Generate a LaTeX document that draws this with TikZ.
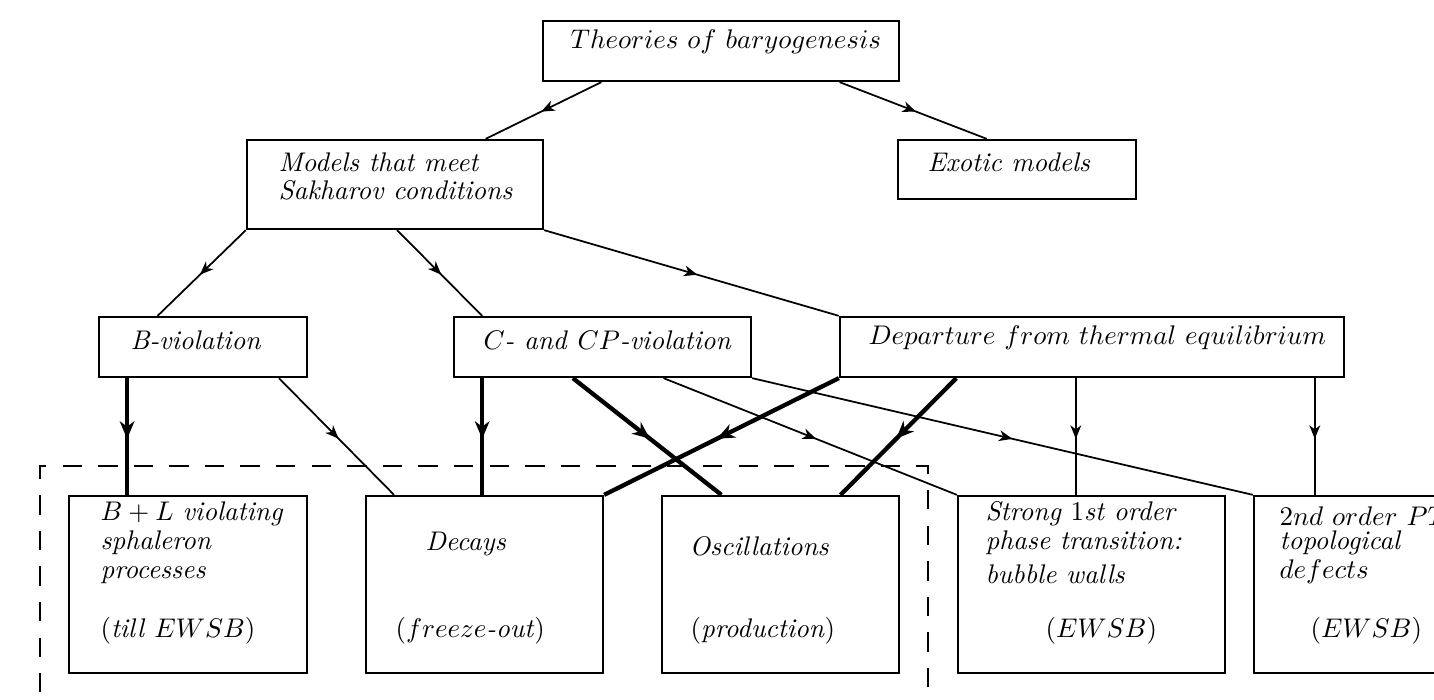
\documentclass[tikz,border=0pt]{standalone}
\usepackage{amsmath,amssymb}
\usepackage{tikz}
\usetikzlibrary{arrows.meta,calc,fit,decorations.markings}

\begin{document}
\begin{tikzpicture}[
    x=0.371pt, y=-0.371pt,
    box/.style={rectangle, draw, line width=0.85pt, inner sep=0pt},
    frame/.style={rectangle, draw, line width=0.65pt, inner sep=0pt, dash pattern=on 7.2pt off 6pt},
    txt/.style={anchor=base west, inner sep=0pt},
    flow/.style={line width=0.65pt, postaction={decorate}, decoration={markings, mark=at position 0.52 with {\arrow{Stealth[length=5pt, width=4pt, inset=1.5pt]}}}},
    boldflow/.style={line width=1.6pt, postaction={decorate}, decoration={markings, mark=at position 0.52 with {\arrow{Stealth[length=6.5pt, width=5.4pt, inset=2pt]}}}}
]
    \useasboundingbox (0,0) rectangle (1434,700);
    \clip (0,0) rectangle (1434,700);

    % boxes
    \node[box, fit={(543,21) (899,81)}] (theories) {};
    \node[box, fit={(898,140) (1136,199)}] (exotic) {};
    \node[box, fit={(247,140) (543,229)}] (models) {};
    \node[box, fit={(99,317) (307,377)}] (bviol) {};
    \node[box, fit={(454,317) (751,377)}] (ccp) {};
    \node[box, fit={(840,317) (1344,377)}] (dep) {};
    \node[box, fit={(69,496) (307,673)}] (sphal) {};
    \node[box, fit={(366,496) (603,673)}] (decays) {};
    \node[box, fit={(662,496) (899,673)}] (osc) {};
    \node[box, fit={(958,496) (1225,673)}] (strong) {};
    \node[box, fit={(1254,496) (1490,673)}] (second) {};
    \node[frame, fit={(40,466) (928,760)}] (region) {};

    % texts
    \node[txt] (theoriestxt) at (570,49) {$Theories\ of\ baryogenesis$};
    \node[txt] (exotictxt) at (927,172) {\textit{Exotic models}};
    \node[txt] (modelstxta) at (278,172) {\textit{Models that meet}};
    \node[txt] (modelstxtb) at (278,200) {\textit{Sakharov conditions}};
    \node[txt] (bvioltxt) at (130,349) {\textit{B-violation}};
    \node[txt] (ccptxt) at (483,349) {$C$\textit{- and }$CP$\textit{-violation}};
    \node[txt] (deptxt) at (868,344) {$Departure\ from\ thermal\ equilibrium$};
    \node[txt] (sphaltxta) at (100,520) {$B+L$ \textit{violating}};
    \node[txt] (sphaltxtb) at (100,549) {\textit{sphaleron}};
    \node[txt] (sphaltxtc) at (100,578) {\textit{processes}};
    \node[txt] (sphaltxtd) at (100,637) {$($\textit{till} $EWSB)$};
    \node[txt] (decaystxta) at (425,550) {\textit{Decays}};
    \node[txt] (decaystxtb) at (395,637) {$(freeze$\textit{-out}$)$};
    \node[txt] (osctxta) at (689,555) {\textit{Oscillations}};
    \node[txt] (osctxtb) at (690,637) {$($\textit{production}$)$};
    \node[txt] (strongtxta) at (985,520) {\textit{Strong} $1$\textit{st order}};
    \node[txt] (strongtxtb) at (985,549) {\textit{phase transition:}};
    \node[txt] (strongtxtc) at (985,583) {\textit{bubble walls}};
    \node[txt] (strongtxtd) at (1045,637) {$(EWSB)$};
    \node[txt] (secondtxta) at (1279,525) {$2nd\ order\ PT$};
    \node[txt] (secondtxtb) at (1279,549) {\textit{topological}};
    \node[txt] (secondtxtc) at (1279,578) {$defects$};
    \node[txt] (secondtxtd) at (1310,637) {$(EWSB)$};

    % start points of the vertical connectors
    \coordinate (bvdown) at ($(bviol.south west)!0.139!(bviol.south east)$);
    \coordinate (ccpdown) at ($(ccp.south west)!0.098!(ccp.south east)$);
    \coordinate (depdowna) at ($(dep.south west)!0.468!(dep.south east)$);
    \coordinate (depdownb) at ($(dep.south west)!0.940!(dep.south east)$);

    % connectors
    \draw[flow] ($(theories.south west)!0.166!(theories.south east)$) -- ($(models.north west)!0.804!(models.north east)$);
    \draw[flow] ($(theories.south west)!0.831!(theories.south east)$) -- ($(exotic.north west)!0.374!(exotic.north east)$);
    \draw[flow] (models.south west) -- ($(bviol.north west)!0.284!(bviol.north east)$);
    \draw[flow] ($(models.south west)!0.507!(models.south east)$) -- ($(ccp.north west)!0.098!(ccp.north east)$);
    \draw[flow] (models.south east) -- (dep.north west);

    \draw[boldflow] (bvdown) -- (bvdown |- sphal.north);
    \draw[flow] ($(bviol.south west)!0.861!(bviol.south east)$) -- ($(decays.north west)!0.122!(decays.north east)$);
    \draw[boldflow] (ccpdown) -- (ccpdown |- decays.north);
    \draw[boldflow] ($(ccp.south west)!0.401!(ccp.south east)$) -- ($(osc.north west)!0.253!(osc.north east)$);
    \draw[flow] ($(ccp.south west)!0.704!(ccp.south east)$) -- (strong.north west);
    \draw[flow] (ccp.south east) -- (second.north west);
    \draw[boldflow] (dep.south west) -- (decays.north east);
    \draw[boldflow] ($(dep.south west)!0.232!(dep.south east)$) -- ($(osc.north west)!0.751!(osc.north east)$);
    \draw[flow] (depdowna) -- (depdowna |- strong.north);
    \draw[flow] (depdownb) -- (depdownb |- second.north);
\end{tikzpicture}
\end{document}
